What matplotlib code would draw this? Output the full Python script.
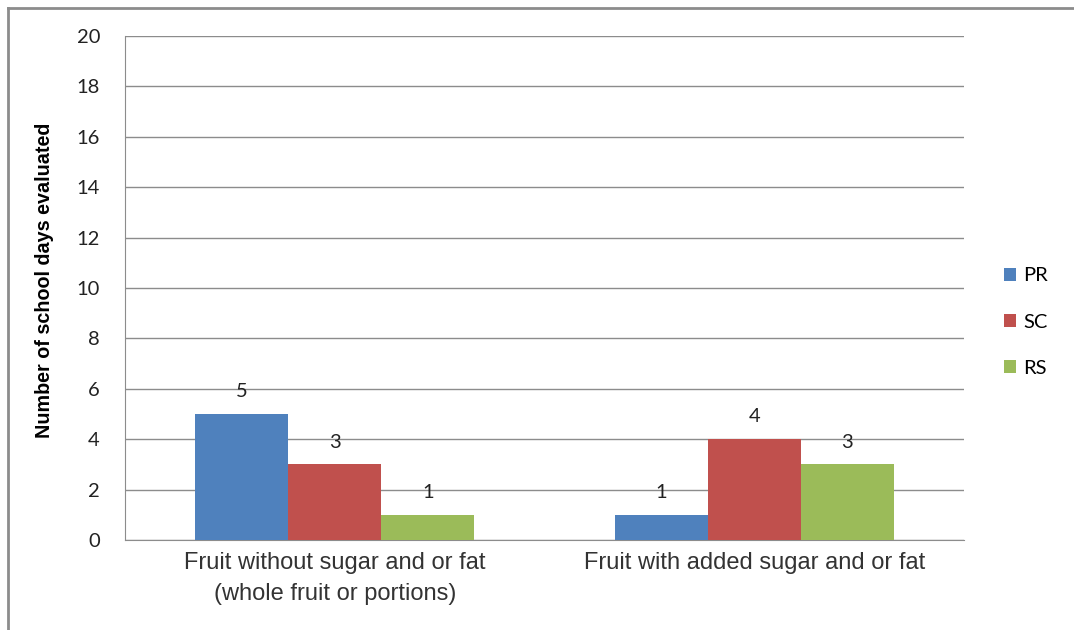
import numpy as np
import matplotlib.pyplot as plt
from matplotlib.patches import Patch
from matplotlib.lines import Line2D

categories = ["Fruit without sugar and or fat\n(whole fruit or portions)",
              "Fruit with added sugar and or fat"]
series = ["PR", "SC", "RS"]
pr = [5, 1]
sc = [3, 4]
rs = [1, 3]
colors = ["#4F81BD", "#C0504D", "#9BBB59"]

fig = plt.figure(figsize=(10.74, 6.3), dpi=100)
ax = fig.add_axes([125/1074, 90/630, 839/1074, 504/630])

x = np.arange(len(categories))
w = 0.222
for i, (vals, c) in enumerate(zip([pr, sc, rs], colors)):
    pos = x + (i - 1) * w
    ax.bar(pos, vals, width=w, color=c, zorder=3)
    for p, v in zip(pos, vals):
        ax.text(p, v + 0.55, str(v), ha="center", va="bottom",
                fontsize=14.5, family="Lato", color="#222222")

ax.set_xlim(-0.5, 1.5)
ax.set_ylim(0, 20)
ax.set_yticks(range(0, 21, 2))
ax.set_xticks(x)
ax.set_xticklabels(categories, fontsize=17, family="Liberation Sans", color="#333333",
                   linespacing=1.5)
for lab in ax.get_yticklabels():
    lab.set_family("Lato")
    lab.set_fontsize(14.5)
    lab.set_color("#222222")
ax.tick_params(axis="both", length=0)
ax.tick_params(axis="y", pad=18)
ax.tick_params(axis="x", pad=9)
ax.grid(axis="y", color="#8c8c8c", linewidth=1, zorder=0)
for s in ["top", "right"]:
    ax.spines[s].set_visible(False)
for s in ["left", "bottom"]:
    ax.spines[s].set_color("#8c8c8c")

ax.set_ylabel("Number of school days evaluated", fontsize=14.2, fontweight="bold",
              family="Liberation Sans")
ax.yaxis.set_label_coords(-71/839, 0.515)

handles = [Patch(facecolor=c, label=s) for s, c in zip(series, colors)]
leg = fig.legend(handles=handles, loc="center left", bbox_to_anchor=(986/1074, 1 - 322/630),
                 frameon=False, prop={"family": "Lato", "size": 14.5},
                 handlelength=0.6, handleheight=0.6, handletextpad=0.35, labelspacing=1.45)

# outer chart border
fig.add_artist(Line2D([8/1074, 8/1074], [0, 1 - 8/630], color="#8c8c8c", lw=2, transform=fig.transFigure))
fig.add_artist(Line2D([8/1074, 1], [1 - 8/630, 1 - 8/630], color="#8c8c8c", lw=2, transform=fig.transFigure))

fig.savefig("out.png", dpi=100)
